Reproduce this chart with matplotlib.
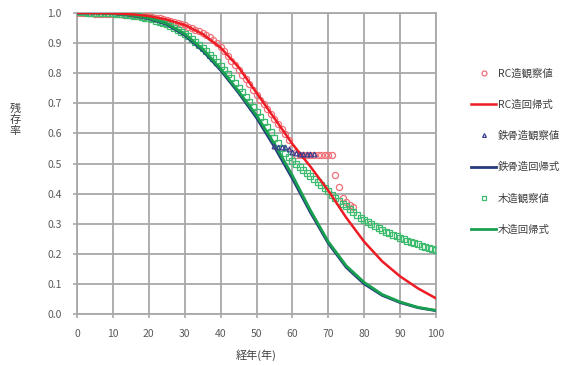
import numpy as np
import matplotlib
matplotlib.use("Agg")
from matplotlib import pyplot as plt

plt.rcParams['font.family'] = ['Noto Sans CJK JP', 'DejaVu Sans']

# RC observed (one point per year, 0..77)
rc_obs_x = list(range(0, 78))
rc_obs_y = [1.000, 1.000, 0.999, 0.999, 0.999, 0.998, 0.998, 0.998, 0.997, 0.997,
            0.997, 0.996, 0.996, 0.995, 0.995, 0.994, 0.993, 0.993, 0.992, 0.991,
            0.990, 0.988, 0.985, 0.983, 0.980, 0.977, 0.974, 0.971, 0.968, 0.964,
            0.960, 0.955, 0.950, 0.945, 0.939, 0.933, 0.927, 0.919, 0.910, 0.899,
            0.888, 0.873, 0.858, 0.842, 0.826, 0.810, 0.795, 0.780, 0.764, 0.745,
            0.728, 0.712, 0.697, 0.681, 0.665, 0.648, 0.632, 0.615, 0.598, 0.578,
            0.552, 0.528, 0.528, 0.528, 0.528, 0.528, 0.528, 0.528, 0.528, 0.528,
            0.528, 0.528, 0.462, 0.423, 0.384, 0.372, 0.362, 0.354]

# steel observed (only the visible points)
st_obs_x = [55, 56, 57, 58, 59, 60, 61, 62, 63, 64, 65, 66]
st_obs_y = [0.558, 0.556, 0.556, 0.554, 0.548, 0.537, 0.535, 0.533, 0.533, 0.532, 0.532, 0.531]

# wood observed (one point per year, 0..100)
wd_obs_x = list(range(0, 101))
wd_obs_y = [1.002, 1.003, 1.002, 1.001, 1.001, 1.000, 1.000, 1.000, 0.999, 0.999,
            0.999, 0.998, 0.997, 0.996, 0.995, 0.993, 0.991, 0.989, 0.987, 0.985,
            0.982, 0.979, 0.975, 0.971, 0.967, 0.962, 0.957, 0.951, 0.945, 0.938,
            0.930, 0.922, 0.913, 0.904, 0.894, 0.884, 0.873, 0.862, 0.850, 0.838,
            0.825, 0.811, 0.797, 0.783, 0.768, 0.752, 0.736, 0.720, 0.704, 0.688,
            0.671, 0.655, 0.638, 0.621, 0.604, 0.586, 0.568, 0.550, 0.535, 0.520,
            0.508, 0.497, 0.487, 0.477, 0.467, 0.457, 0.447, 0.437, 0.427, 0.417,
            0.407, 0.397, 0.387, 0.377, 0.367, 0.358, 0.348, 0.339, 0.330, 0.320,
            0.311, 0.305, 0.299, 0.292, 0.286, 0.280, 0.274, 0.269, 0.263, 0.258,
            0.253, 0.248, 0.244, 0.239, 0.235, 0.231, 0.227, 0.223, 0.219, 0.215,
            0.211]

# regression curves (every 5 years)
reg_x = [0, 5, 10, 15, 20, 25, 30, 35, 40, 45, 50, 55, 60, 65, 70, 75, 80, 85, 90, 95, 100]
rc_reg = [1.0, 1.0, 0.999, 0.996, 0.990, 0.978, 0.960, 0.930, 0.885, 0.820, 0.735,
          0.650, 0.565, 0.490, 0.410, 0.320, 0.240, 0.175, 0.125, 0.085, 0.052]
st_reg = [1.0, 1.0, 0.998, 0.992, 0.981, 0.962, 0.926, 0.875, 0.810, 0.735, 0.652,
          0.555, 0.450, 0.338, 0.235, 0.155, 0.100, 0.062, 0.038, 0.021, 0.011]
wd_reg = [1.0, 1.0, 0.998, 0.993, 0.983, 0.965, 0.930, 0.880, 0.815, 0.740, 0.660,
          0.565, 0.460, 0.345, 0.240, 0.160, 0.105, 0.065, 0.040, 0.022, 0.012]

fig = plt.figure(figsize=(5.81, 3.66), dpi=100)
ax = fig.add_axes([77/581, 1-314/366, (436-77)/581, (314-13)/366])

ax.plot(rc_obs_x, rc_obs_y, ls='none', marker='o', ms=4.4, mfc='none', mec='#f07078', mew=0.9,
        label='RC造観察値', zorder=3)
ax.plot(wd_obs_x, wd_obs_y, ls='none', marker='s', ms=4.0, mfc='none', mec='#3dbb6e', mew=0.9,
        label='木造観察値', zorder=3.2)
ax.plot(reg_x, st_reg, color='#263a7c', lw=2.0, label='鉄骨造回帰式', zorder=3.5)
ax.plot(reg_x, wd_reg, color='#18a050', lw=2.0, label='木造回帰式', zorder=4)
ax.plot(reg_x, rc_reg, color='#ee1c24', lw=1.8, label='RC造回帰式', zorder=4)
ax.plot(st_obs_x, st_obs_y, ls='none', marker='^', ms=3.4, mfc='none', mec='#3c3f8f', mew=0.9,
        label='鉄骨造観察値', zorder=5)

ax.set_xlim(0, 100)
ax.set_ylim(0, 1.0)
ax.set_xticks(np.arange(0, 101, 10))
ax.set_yticks(np.arange(0, 1.01, 0.1))
ax.set_yticklabels(['%.1f' % v for v in np.arange(0, 1.01, 0.1)])
ax.grid(True, color='#a8a8a8', lw=1.3)
ax.set_axisbelow(True)
for s in ax.spines.values():
    s.set_color('#a8a8a8')
    s.set_linewidth(1.3)
ax.tick_params(colors='#a8a8a8', labelcolor='#5a5a5a', labelsize=7.5, length=3, width=1.2, pad=8)

ax.set_xlabel('経年(年)', fontsize=8, color='#404040', labelpad=7)
fig.text(15/581, 1-120/366, '残\n存\n率', ha='center', va='center', fontsize=8,
         color='#404040', linespacing=1.15)

h, l = ax.get_legend_handles_labels()
order = ['RC造観察値', 'RC造回帰式', '鉄骨造観察値', '鉄骨造回帰式', '木造観察値', '木造回帰式']
hs = [h[l.index(o)] for o in order]
fig.legend(hs, order, loc='upper left', bbox_to_anchor=(466/581, 1-63/366),
           frameon=False, fontsize=7.5, labelspacing=2.02, handlelength=2.4,
           handletextpad=0.15, borderpad=0, labelcolor='#404040', markerscale=0.8)

fig.savefig('out.png', dpi=100)
